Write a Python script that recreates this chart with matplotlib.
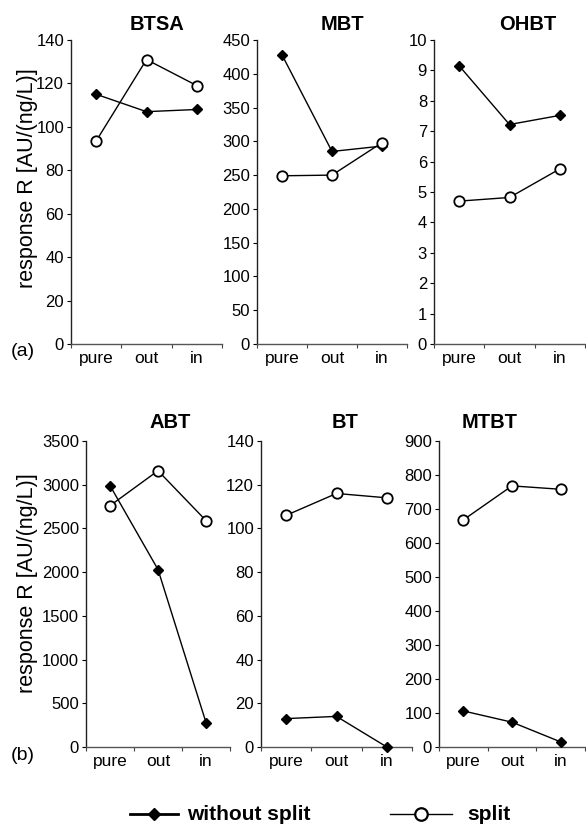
import matplotlib
matplotlib.use("Agg")
import matplotlib.pyplot as plt
from matplotlib.lines import Line2D

plt.rcParams["font.family"] = ["Liberation Sans", "DejaVu Sans"]

# ----------------------
# DATA
# ----------------------
categories = ["pure", "out", "in"]

names = ["BTSA", "MBT", "OHBT", "ABT", "BT", "MTBT"]
without_split = [
    [115, 107, 108],
    [428, 285, 293],
    [9.15, 7.22, 7.52],
    [2990, 2030, 280],
    [13, 14, 0],
    [106, 73, 15],
]
split = [
    [93.5, 131, 119],
    [249, 250, 298],
    [4.7, 4.82, 5.76],
    [2760, 3160, 2590],
    [106, 116, 114],
    [668, 768, 758],
]
ymax = [140, 450, 10, 3500, 140, 900]
ystep = [20, 50, 1, 500, 20, 100]

# ----------------------
# LAYOUT (pixels)
# ----------------------
W, H = 586, 826
fig = plt.figure(figsize=(W / 100, H / 100), dpi=100)

# x0, x1, ytop, ybot
boxes = [
    (71, 222, 40, 344),
    (257, 407, 40, 344),
    (434, 585, 40, 344),
    (86, 230, 441, 747),
    (261, 412, 441, 747),
    (439, 585, 441, 747),
]
title_pos = [(157, 25), (342, 25), (528, 25), (170, 423), (345, 423), (490, 423)]


def px_axes(x0, x1, yt, yb):
    return fig.add_axes([x0 / W, 1 - yb / H, (x1 - x0) / W, (yb - yt) / H])


def fx(x):
    return x / W


def fy(y):
    return 1 - y / H


xpos = [0.5, 1.5, 2.5]
for i, name in enumerate(names):
    ax = px_axes(*boxes[i])
    ax.plot(xpos, without_split[i], color="black", lw=1.0, marker="D",
            markersize=5.5, markerfacecolor="black", clip_on=False, zorder=3)
    ax.plot(xpos, split[i], color="black", lw=1.0, marker="o",
            markersize=7.5, markerfacecolor="white", markeredgewidth=1.3,
            clip_on=False, zorder=4)
    ax.set_xlim(0, 3)
    ax.set_ylim(0, ymax[i])
    ax.set_yticks([k * ystep[i] for k in range(int(round(ymax[i] / ystep[i])) + 1)])
    ax.set_xticks([0, 1, 2, 3])
    ax.set_xticklabels([])
    ax.set_xticks(xpos, minor=True)
    ax.set_xticklabels(categories, minor=True, fontsize=12.5)
    ax.tick_params(axis="x", which="minor", length=0, pad=5)
    ax.tick_params(axis="x", which="major", length=3, width=0.8, color="#444444")
    ax.tick_params(axis="y", length=3, width=0.8, labelsize=12, pad=2)
    for s in ["top", "right"]:
        ax.spines[s].set_visible(False)
    ax.spines["left"].set_color("#222222")
    ax.spines["bottom"].set_color("#555555")
    ax.spines["left"].set_linewidth(1.0)
    ax.spines["bottom"].set_linewidth(1.0)
    ax.patch.set_alpha(0)
    tx, ty = title_pos[i]
    fig.text(fx(tx), fy(ty), name, ha="center", va="center",
             fontsize=14.5, fontweight="bold")

# y labels and panel letters
fig.text(fx(28), fy(178), "response R [AU/(ng/L)]", rotation=90,
         ha="center", va="center", fontsize=15.5)
fig.text(fx(28), fy(583), "response R [AU/(ng/L)]", rotation=90,
         ha="center", va="center", fontsize=15.5)
fig.text(fx(23), fy(352), "(a)", ha="center", va="center", fontsize=14)
fig.text(fx(23), fy(756), "(b)", ha="center", va="center", fontsize=14)

# legend (drawn by hand to match the original layout)
ly = 814
fig.add_artist(Line2D([fx(130), fx(178)], [fy(ly), fy(ly)], color="black", lw=2.0,
                      transform=fig.transFigure))
fig.add_artist(Line2D([fx(154)], [fy(ly)], color="black", marker="D", markersize=6.5,
                      markerfacecolor="black", transform=fig.transFigure))
fig.text(fx(187), fy(ly), "without split", ha="left", va="center",
         fontsize=15, fontweight="bold")
fig.add_artist(Line2D([fx(390), fx(452)], [fy(ly), fy(ly)], color="black", lw=1.0,
                      transform=fig.transFigure))
fig.add_artist(Line2D([fx(421)], [fy(ly)], color="black", marker="o", markersize=9,
                      markerfacecolor="white", markeredgewidth=1.6,
                      transform=fig.transFigure))
fig.text(fx(467), fy(ly), "split", ha="left", va="center",
         fontsize=15, fontweight="bold")

fig.savefig("out.png", dpi=100)
